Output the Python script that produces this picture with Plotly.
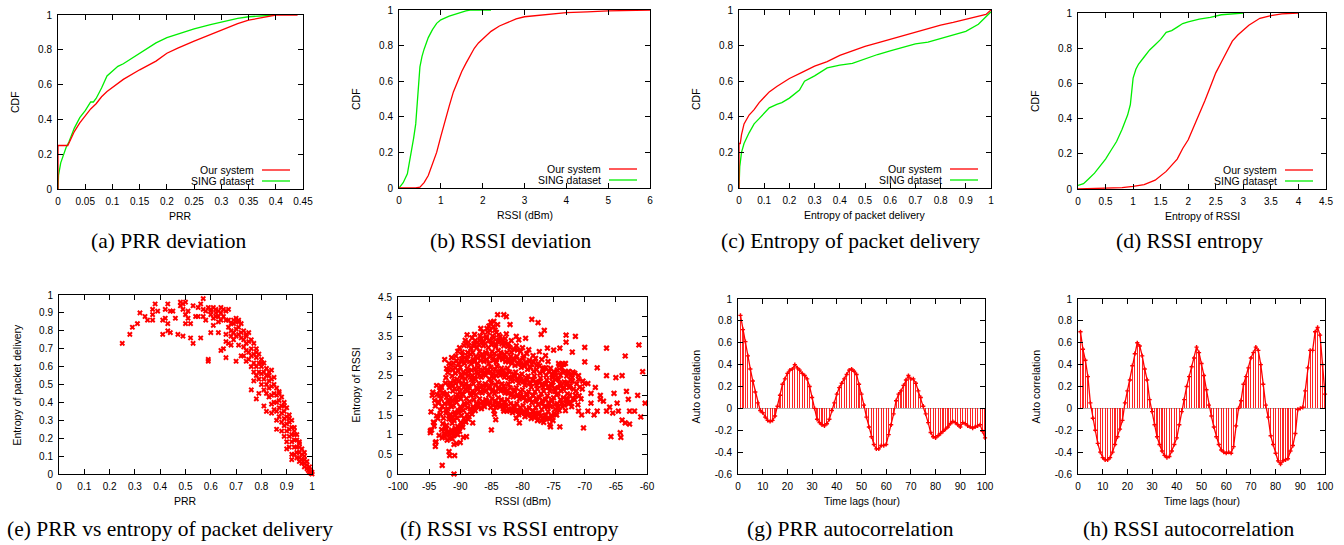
import plotly.graph_objects as go

W, H = 1344, 545

# ---------------- data ----------------
# (a) PRR deviation CDF
a_our_x = [0, 0, 0.018, 0.022, 0.03, 0.04, 0.05, 0.06, 0.07, 0.08, 0.09, 0.1, 0.12, 0.15, 0.18, 0.2, 0.22, 0.25, 0.27, 0.28, 0.3, 0.33, 0.35, 0.38, 0.4, 0.44]
a_our_y = [0, 0.25, 0.25, 0.28, 0.33, 0.38, 0.42, 0.46, 0.49, 0.53, 0.56, 0.585, 0.63, 0.685, 0.735, 0.78, 0.81, 0.85, 0.875, 0.89, 0.915, 0.95, 0.97, 0.99, 1.0, 1.0]
a_sing_x = [0, 0.001, 0.005, 0.01, 0.015, 0.02, 0.03, 0.04, 0.05, 0.06, 0.065, 0.07, 0.08, 0.09, 0.1, 0.11, 0.12, 0.13, 0.15, 0.18, 0.2, 0.22, 0.25, 0.28, 0.3, 0.33, 0.35, 0.4]
a_sing_y = [0, 0.08, 0.15, 0.2, 0.24, 0.27, 0.35, 0.41, 0.45, 0.5, 0.5, 0.52, 0.58, 0.65, 0.68, 0.705, 0.72, 0.74, 0.78, 0.84, 0.87, 0.89, 0.92, 0.945, 0.96, 0.98, 0.99, 1.0]

# (b) RSSI deviation CDF
b_our_x = [0, 0.4, 0.5, 0.6, 0.7, 0.8, 0.9, 1.0, 1.1, 1.2, 1.3, 1.4, 1.5, 1.6, 1.7, 1.8, 1.9, 2.0, 2.1, 2.2, 2.4, 2.6, 2.8, 3.0, 3.5, 4.0, 4.5, 5.0, 6.0]
b_our_y = [0, 0, 0.005, 0.03, 0.07, 0.13, 0.2, 0.29, 0.38, 0.46, 0.54, 0.6, 0.655, 0.7, 0.745, 0.785, 0.815, 0.835, 0.855, 0.88, 0.91, 0.93, 0.95, 0.962, 0.975, 0.985, 0.99, 0.995, 1.0]
b_sing_x = [0, 0.1, 0.2, 0.3, 0.35, 0.4, 0.45, 0.5, 0.55, 0.6, 0.7, 0.8, 0.9, 1.0, 1.2, 1.4, 1.5, 1.6, 1.7, 2.2]
b_sing_y = [0, 0.03, 0.08, 0.2, 0.28, 0.36, 0.5, 0.68, 0.74, 0.78, 0.845, 0.89, 0.925, 0.945, 0.965, 0.98, 0.99, 0.995, 1.0, 1.0]

# (c) Entropy of packet delivery CDF
c_our_x = [0, 0, 0.005, 0.01, 0.02, 0.04, 0.06, 0.08, 0.1, 0.12, 0.15, 0.2, 0.25, 0.3, 0.35, 0.4, 0.45, 0.5, 0.55, 0.6, 0.65, 0.7, 0.75, 0.8, 0.85, 0.9, 0.95, 0.98, 1.0]
c_our_y = [0, 0.25, 0.25, 0.3, 0.36, 0.41, 0.44, 0.48, 0.51, 0.54, 0.57, 0.615, 0.65, 0.685, 0.71, 0.745, 0.77, 0.795, 0.815, 0.835, 0.855, 0.875, 0.895, 0.915, 0.93, 0.948, 0.965, 0.975, 1.0]
c_sing_x = [0, 0.003, 0.01, 0.02, 0.04, 0.06, 0.08, 0.1, 0.12, 0.15, 0.17, 0.2, 0.22, 0.24, 0.26, 0.3, 0.35, 0.4, 0.45, 0.5, 0.55, 0.6, 0.65, 0.7, 0.75, 0.8, 0.85, 0.9, 0.95, 1.0]
c_sing_y = [0, 0.12, 0.2, 0.25, 0.31, 0.36, 0.39, 0.42, 0.45, 0.47, 0.48, 0.505, 0.53, 0.55, 0.6, 0.63, 0.675, 0.69, 0.7, 0.725, 0.75, 0.77, 0.79, 0.81, 0.82, 0.84, 0.86, 0.88, 0.92, 0.99]

# (d) RSSI entropy CDF
d_our_x = [0, 0.5, 0.8, 1.0, 1.2, 1.4, 1.5, 1.6, 1.8, 1.9, 2.0, 2.1, 2.2, 2.3, 2.4, 2.5, 2.6, 2.7, 2.8, 2.9, 3.0, 3.1, 3.2, 3.3, 3.5, 3.7, 4.0]
d_our_y = [0, 0.003, 0.008, 0.015, 0.025, 0.05, 0.075, 0.1, 0.17, 0.23, 0.28, 0.35, 0.43, 0.5, 0.58, 0.66, 0.72, 0.78, 0.84, 0.875, 0.905, 0.93, 0.95, 0.97, 0.985, 0.995, 1.0]
d_sing_x = [0, 0.1, 0.2, 0.3, 0.4, 0.5, 0.6, 0.7, 0.8, 0.9, 0.95, 1.0, 1.05, 1.1, 1.2, 1.3, 1.4, 1.5, 1.6, 1.7, 1.8, 1.9, 2.0, 2.2, 2.4, 2.6, 3.0]
d_sing_y = [0.02, 0.03, 0.06, 0.09, 0.13, 0.17, 0.22, 0.27, 0.34, 0.42, 0.48, 0.63, 0.68, 0.71, 0.75, 0.79, 0.82, 0.85, 0.89, 0.9, 0.92, 0.94, 0.95, 0.965, 0.975, 0.99, 1.0]

# (e) PRR vs entropy of packet delivery
e_points = [
    (0.25, 0.73), (0.28, 0.78), (0.29, 0.82), (0.31, 0.84), (0.32, 0.90), (0.34, 0.88), (0.35, 0.86), (0.37, 0.86),
    (0.37, 0.89), (0.37, 0.92), (0.38, 0.95), (0.39, 0.91), (0.41, 0.78), (0.41, 0.86), (0.42, 0.87), (0.42, 0.92),
    (0.43, 0.84), (0.43, 0.80), (0.43, 0.95), (0.44, 0.91), (0.44, 0.79), (0.45, 0.91), (0.46, 0.87), (0.47, 0.78),
    (0.48, 0.96), (0.48, 0.94), (0.49, 0.92), (0.49, 0.95), (0.49, 0.77), (0.50, 0.84), (0.50, 0.89), (0.50, 0.96),
    (0.51, 0.91), (0.51, 0.87), (0.52, 0.84), (0.52, 0.76), (0.53, 0.94), (0.53, 0.73), (0.54, 0.88), (0.55, 0.93),
    (0.55, 0.88), (0.56, 0.95), (0.56, 0.76), (0.57, 0.92), (0.57, 0.88), (0.57, 0.98), (0.58, 0.91), (0.58, 0.86),
    (0.59, 0.93), (0.59, 0.63), (0.59, 0.64), (0.60, 0.89), (0.60, 0.91), (0.60, 0.92), (0.60, 0.79), (0.61, 0.87),
    (0.61, 0.83), (0.62, 0.90), (0.62, 0.92), (0.63, 0.91), (0.63, 0.88), (0.63, 0.79), (0.64, 0.90), (0.64, 0.86),
    (0.64, 0.69), (0.65, 0.92), (0.65, 0.88), (0.65, 0.70), (0.66, 0.91), (0.66, 0.86), (0.66, 0.78), (0.66, 0.74),
    (0.66, 0.65), (0.67, 0.92), (0.67, 0.82), (0.67, 0.73), (0.68, 0.80), (0.68, 0.77), (0.68, 0.72), (0.69, 0.86),
    (0.69, 0.84), (0.69, 0.75), (0.69, 0.79), (0.70, 0.87), (0.70, 0.81), (0.70, 0.77), (0.70, 0.63), (0.71, 0.85),
    (0.71, 0.82), (0.71, 0.72), (0.72, 0.79), (0.72, 0.76), (0.72, 0.66), (0.73, 0.80), (0.73, 0.75), (0.73, 0.71),
    (0.73, 0.66), (0.74, 0.77), (0.74, 0.73), (0.74, 0.63), (0.74, 0.69), (0.75, 0.79), (0.75, 0.74), (0.75, 0.68),
    (0.75, 0.64), (0.76, 0.70), (0.76, 0.66), (0.76, 0.60), (0.76, 0.47), (0.77, 0.73), (0.77, 0.67), (0.77, 0.62),
    (0.77, 0.57), (0.77, 0.52), (0.78, 0.70), (0.78, 0.65), (0.78, 0.60), (0.78, 0.55), (0.78, 0.42), (0.79, 0.67),
    (0.79, 0.62), (0.79, 0.57), (0.79, 0.53), (0.80, 0.64), (0.80, 0.60), (0.80, 0.56), (0.80, 0.50), (0.81, 0.62),
    (0.81, 0.57), (0.81, 0.53), (0.81, 0.47), (0.81, 0.38), (0.82, 0.59), (0.82, 0.55), (0.82, 0.50), (0.82, 0.45),
    (0.82, 0.35), (0.83, 0.57), (0.83, 0.52), (0.83, 0.48), (0.83, 0.43), (0.84, 0.58), (0.84, 0.53), (0.84, 0.49),
    (0.84, 0.44), (0.84, 0.39), (0.85, 0.54), (0.85, 0.50), (0.85, 0.45), (0.85, 0.40), (0.85, 0.36), (0.86, 0.48),
    (0.86, 0.44), (0.86, 0.40), (0.86, 0.35), (0.86, 0.25), (0.87, 0.46), (0.87, 0.41), (0.87, 0.37), (0.87, 0.32),
    (0.88, 0.43), (0.88, 0.38), (0.88, 0.34), (0.88, 0.29), (0.88, 0.24), (0.89, 0.40), (0.89, 0.35), (0.89, 0.31),
    (0.89, 0.27), (0.89, 0.21), (0.90, 0.37), (0.90, 0.32), (0.90, 0.28), (0.90, 0.24), (0.90, 0.18), (0.91, 0.33),
    (0.91, 0.29), (0.91, 0.25), (0.91, 0.21), (0.91, 0.15), (0.92, 0.30), (0.92, 0.26), (0.92, 0.22), (0.92, 0.18),
    (0.92, 0.11), (0.93, 0.26), (0.93, 0.22), (0.93, 0.19), (0.93, 0.15), (0.93, 0.11), (0.94, 0.22), (0.94, 0.19),
    (0.94, 0.15), (0.94, 0.12), (0.94, 0.09), (0.95, 0.18), (0.95, 0.15), (0.95, 0.12), (0.95, 0.09), (0.95, 0.07),
    (0.96, 0.14), (0.96, 0.11), (0.96, 0.08), (0.96, 0.06), (0.97, 0.10), (0.97, 0.08), (0.97, 0.06), (0.97, 0.04),
    (0.98, 0.07), (0.98, 0.05), (0.98, 0.03), (0.99, 0.04), (0.99, 0.02), (0.99, 0.01), (1.0, 0.0), (1.0, 0.01),
    (0.995, 0.005), (0.985, 0.02), (0.72, 0.84), (0.74, 0.78), (0.76, 0.75), (0.78, 0.68), (0.80, 0.62), (0.83, 0.55),
    (0.87, 0.45), (0.89, 0.38), (0.91, 0.31), (0.93, 0.24), (0.95, 0.17), (0.97, 0.12), (0.62, 0.88), (0.64, 0.93),
    (0.61, 0.93), (0.63, 0.85), (0.67, 0.86), (0.68, 0.84), (0.71, 0.78), (0.79, 0.45), (0.84, 0.34), (0.86, 0.30),
    (0.90, 0.14), (0.92, 0.08), (0.70, 0.85), (0.71, 0.86),
]

# (f) RSSI vs RSSI entropy
f_points = [
    (-94.8, 1.1), (-94.8, 1.05), (-94.5, 2.0), (-94.2, 1.3), (-94.0, 0.8), (-94.0, 0.7), (-93.8, 2.25), (-93.5, 1.8),
    (-93.3, 2.0), (-93.0, 2.2), (-92.9, 0.22), (-92.5, 0.95), (-92.3, 1.0), (-92.0, 1.05), (-91.8, 0.57), (-91.7, 0.47),
    (-91.5, 1.4), (-91.3, 0.9), (-91.0, 0.75), (-90.9, 0.47), (-91.0, 0.0), (-90.6, 0.78), (-90.4, 1.0), (-90.0, 0.8),
    (-89.5, 0.93), (-89.0, 0.95), (-88.0, 1.3), (-85.0, 1.12), (-84.5, 1.52), (-84.3, 1.38), (-84.0, 4.05), (-83.0, 4.05),
    (-82.6, 4.0), (-84.6, 3.88), (-84.0, 3.8), (-82.0, 3.8), (-81.0, 3.5), (-79.5, 3.45), (-78.5, 3.93), (-77.5, 3.85),
    (-77.0, 3.55), (-76.5, 3.65), (-76.0, 3.2), (-75.0, 3.15), (-74.0, 3.2), (-73.0, 3.53), (-73.0, 3.35), (-72.0, 3.1),
    (-71.5, 3.5), (-70.0, 3.22), (-70.0, 2.85), (-68.0, 2.7), (-66.5, 3.2), (-66.5, 2.5), (-65.0, 2.45), (-64.0, 2.5),
    (-63.5, 3.0), (-61.3, 3.28), (-60.7, 2.6), (-60.3, 1.8), (-61.5, 2.0), (-61.0, 1.45), (-62.0, 1.6), (-62.8, 1.6),
    (-62.8, 1.27), (-63.0, 1.9), (-63.3, 2.1), (-63.5, 1.3), (-64.0, 1.37), (-64.3, 1.05), (-64.2, 0.93), (-64.6, 1.6),
    (-64.8, 1.8), (-65.3, 2.05), (-65.5, 1.55), (-65.8, 0.95), (-66.0, 1.7), (-66.5, 1.6), (-67.0, 1.85), (-67.5, 1.9),
    (-68.0, 1.6), (-68.5, 1.5), (-69.0, 2.05), (-69.0, 1.8), (-69.5, 1.6), (-70.0, 2.3), (-70.2, 1.17), (-70.5, 1.5),
    (-71.0, 1.6), (-71.0, 2.5), (-71.5, 2.0), (-72.0, 2.45), (-72.5, 2.2), (-73.0, 1.9), (-73.5, 2.8), (-74.0, 1.2),
    (-74.5, 1.5), (-75.0, 2.6), (-75.5, 1.2), (-76.0, 1.7), (-76.5, 1.4), (-77.0, 1.35), (-78.0, 1.45), (-78.0, 1.55),
    (-80.5, 1.3), (-81.0, 1.42), (-82.5, 1.6), (-83.0, 1.6), (-69.5, 2.3), (-68.3, 2.2), (-67.5, 2.0),
    (-94.6, 1.12), (-94.3, 1.32), (-94.7, 1.58), (-94.1, 1.87), (-94.4, 2.08), (-93.9, 0.82), (-94.2, 1.22), (-93.8, 1.48),
    (-94.0, 1.73), (-93.7, 2.02), (-93.4, 0.98), (-93.6, 1.41), (-93.2, 1.62), (-93.5, 1.83), (-93.3, 2.12), (-93.1, 2.23),
    (-92.9, 0.92), (-93.0, 1.13), (-92.8, 1.28), (-93.2, 1.52), (-92.9, 1.72), (-93.1, 1.91), (-92.7, 2.07),
    (-92.6, 1.02), (-92.4, 1.18), (-92.7, 1.42), (-92.3, 1.63), (-92.5, 1.79), (-92.6, 2.02), (-92.4, 2.31), (-92.2, 2.68),
    (-92.5, 2.91), (-92.1, 0.86), (-91.9, 1.07), (-92.2, 1.24), (-91.8, 1.47), (-92.0, 1.66), (-91.9, 1.84), (-92.1, 2.04),
    (-91.7, 2.27), (-92.0, 2.58), (-91.8, 2.81), (-91.6, 0.91), (-91.4, 1.12), (-91.3, 1.29), (-91.6, 1.52), (-91.4, 1.71),
    (-91.5, 1.93), (-91.2, 2.11), (-91.6, 2.32), (-91.3, 2.49), (-91.5, 2.77), (-91.4, 2.96), (-91.1, 0.97), (-90.8, 1.16),
    (-91.0, 1.36), (-90.9, 1.57), (-91.1, 1.74), (-90.7, 1.96), (-90.9, 2.16), (-91.0, 2.37), (-90.8, 2.56), (-91.1, 2.82),
    (-90.6, 1.02), (-90.4, 1.21), (-90.5, 1.42), (-90.3, 1.61), (-90.6, 1.82), (-90.4, 2.01), (-90.2, 2.19), (-90.5, 2.41),
    (-90.3, 2.62), (-90.6, 2.88), (-90.4, 3.12), (-90.1, 1.09), (-89.9, 1.31), (-89.8, 1.49), (-90.0, 1.71), (-89.9, 1.91),
    (-90.1, 2.09), (-89.7, 2.31), (-89.9, 2.52), (-90.0, 2.71), (-89.8, 2.92), (-90.1, 3.21), (-89.6, 1.19), (-89.4, 1.41),
    (-89.5, 1.62), (-89.3, 1.79), (-89.6, 2.02), (-89.4, 2.21), (-89.2, 2.42), (-89.5, 2.59), (-89.3, 2.81), (-89.6, 3.02),
    (-89.4, 3.27), (-89.1, 1.32), (-88.9, 1.51), (-88.8, 1.69), (-89.0, 1.92), (-88.9, 2.11), (-89.1, 2.29), (-88.7, 2.51),
    (-88.9, 2.69), (-89.0, 2.91), (-88.8, 3.09), (-89.1, 3.31), (-88.9, 3.54), (-88.6, 1.46), (-88.4, 1.66), (-88.5, 1.84),
    (-88.3, 2.06), (-88.6, 2.24), (-88.4, 2.46), (-88.2, 2.64), (-88.5, 2.86), (-88.3, 3.04), (-88.6, 3.26), (-88.1, 1.52),
    (-87.9, 1.71), (-87.8, 1.89), (-88.0, 2.11), (-87.9, 2.29), (-88.1, 2.51), (-87.7, 2.69), (-87.9, 2.91), (-88.0, 3.09),
    (-87.8, 3.31), (-88.1, 3.46), (-87.6, 1.61), (-87.4, 1.79), (-87.5, 2.01), (-87.3, 2.19), (-87.6, 2.41), (-87.4, 2.59),
    (-87.2, 2.81), (-87.5, 2.99), (-87.3, 3.21), (-87.6, 3.39), (-87.1, 1.69), (-86.9, 1.91), (-86.8, 2.09), (-87.0, 2.31),
    (-86.9, 2.49), (-87.1, 2.71), (-86.7, 2.89), (-86.9, 3.11), (-87.0, 3.29), (-86.8, 3.51), (-86.6, 1.66), (-86.4, 1.84),
    (-86.5, 2.06), (-86.3, 2.24), (-86.6, 2.46), (-86.4, 2.64), (-86.2, 2.86), (-86.5, 3.04), (-86.3, 3.26), (-86.6, 3.44),
    (-86.4, 3.61), (-86.1, 1.71), (-85.9, 1.89), (-85.8, 2.11), (-86.0, 2.29), (-85.9, 2.51), (-86.1, 2.69), (-85.7, 2.91),
    (-85.9, 3.09), (-86.0, 3.31), (-85.8, 3.49), (-85.6, 1.79), (-85.4, 2.01), (-85.5, 2.19), (-85.3, 2.41), (-85.6, 2.59),
    (-85.4, 2.81), (-85.2, 2.99), (-85.5, 3.21), (-85.3, 3.39), (-85.6, 3.61), (-85.4, 3.76), (-85.1, 1.69), (-84.9, 1.91),
    (-84.8, 2.09), (-85.0, 2.31), (-84.9, 2.49), (-85.1, 2.71), (-84.7, 2.89), (-84.9, 3.11), (-85.0, 3.29), (-84.8, 3.51),
    (-85.1, 3.86), (-84.6, 1.61), (-84.4, 1.86), (-84.5, 2.04), (-84.3, 2.26), (-84.6, 2.44), (-84.4, 2.66), (-84.2, 2.84),
    (-84.5, 3.06), (-84.3, 3.24), (-84.6, 3.46), (-84.4, 3.66), (-84.1, 1.76), (-83.9, 1.94), (-83.8, 2.16), (-84.0, 2.34),
    (-83.9, 2.56), (-84.1, 2.74), (-83.7, 2.96), (-83.9, 3.14), (-84.0, 3.36), (-83.8, 3.54), (-83.6, 1.71), (-83.4, 1.89),
    (-83.5, 2.11), (-83.3, 2.29), (-83.6, 2.51), (-83.4, 2.69), (-83.2, 2.91), (-83.5, 3.09), (-83.3, 3.31), (-83.6, 3.49),
    (-83.1, 1.66), (-82.9, 1.84), (-82.8, 2.06), (-83.0, 2.24), (-82.9, 2.46), (-83.1, 2.64), (-82.7, 2.86), (-82.9, 3.04),
    (-83.0, 3.26), (-82.8, 3.44), (-82.6, 1.71), (-82.4, 1.89), (-82.5, 2.11), (-82.3, 2.29), (-82.6, 2.51), (-82.4, 2.69),
    (-82.2, 2.91), (-82.5, 3.09), (-82.3, 3.31), (-82.6, 3.56), (-82.1, 1.61), (-81.9, 1.79), (-81.8, 2.01), (-82.0, 2.19),
    (-81.9, 2.41), (-82.1, 2.59), (-81.7, 2.81), (-81.9, 2.99), (-82.0, 3.21), (-81.8, 3.39), (-81.6, 1.56), (-81.4, 1.74),
    (-81.5, 1.96), (-81.3, 2.14), (-81.6, 2.36), (-81.4, 2.54), (-81.2, 2.76), (-81.5, 2.94), (-81.3, 3.16), (-81.1, 1.61),
    (-80.9, 1.79), (-80.8, 2.01), (-81.0, 2.19), (-80.9, 2.41), (-81.1, 2.59), (-80.7, 2.81), (-80.9, 2.99), (-81.0, 3.26),
    (-80.6, 1.51), (-80.4, 1.69), (-80.5, 1.91), (-80.3, 2.09), (-80.6, 2.31), (-80.4, 2.49), (-80.2, 2.71), (-80.5, 2.89),
    (-80.3, 3.11), (-80.6, 3.41), (-80.1, 1.56), (-79.9, 1.74), (-79.8, 1.96), (-80.0, 2.14), (-79.9, 2.36), (-80.1, 2.54),
    (-79.7, 2.76), (-79.9, 2.94), (-80.0, 3.21), (-79.6, 1.46), (-79.4, 1.64), (-79.5, 1.86), (-79.3, 2.04), (-79.6, 2.26),
    (-79.4, 2.44), (-79.2, 2.66), (-79.5, 2.84), (-79.3, 3.06), (-79.1, 1.51), (-78.9, 1.69), (-78.8, 1.91), (-79.0, 2.09),
    (-78.9, 2.31), (-79.1, 2.49), (-78.7, 2.71), (-78.9, 2.89), (-79.0, 3.16), (-78.6, 1.41), (-78.4, 1.59), (-78.5, 1.81),
    (-78.3, 1.99), (-78.6, 2.21), (-78.4, 2.39), (-78.2, 2.61), (-78.5, 2.79), (-78.3, 3.01), (-78.1, 1.51), (-77.9, 1.69),
    (-77.8, 1.91), (-78.0, 2.09), (-77.9, 2.31), (-78.1, 2.49), (-77.7, 2.76), (-77.9, 2.94), (-77.6, 1.36), (-77.4, 1.54),
    (-77.5, 1.76), (-77.3, 1.94), (-77.6, 2.16), (-77.4, 2.34), (-77.2, 2.56), (-77.5, 2.81), (-77.3, 3.11), (-77.1, 1.46),
    (-76.9, 1.64), (-76.8, 1.86), (-77.0, 2.04), (-76.9, 2.26), (-77.1, 2.44), (-76.7, 2.66), (-76.9, 2.91), (-76.6, 1.31),
    (-76.4, 1.49), (-76.5, 1.71), (-76.3, 1.89), (-76.6, 2.11), (-76.4, 2.29), (-76.2, 2.51), (-76.5, 2.69), (-76.3, 3.01),
    (-76.1, 1.41), (-75.9, 1.59), (-75.8, 1.81), (-76.0, 1.99), (-75.9, 2.21), (-76.1, 2.39), (-75.7, 2.61), (-75.9, 2.86),
    (-75.6, 1.26), (-75.4, 1.49), (-75.5, 1.71), (-75.3, 1.89), (-75.6, 2.11), (-75.4, 2.29), (-75.2, 2.51), (-75.5, 2.69),
    (-75.1, 1.36), (-74.9, 1.54), (-74.8, 1.76), (-75.0, 1.94), (-74.9, 2.16), (-75.1, 2.34), (-74.7, 2.56), (-74.6, 1.51),
    (-74.4, 1.79), (-74.5, 2.01), (-74.3, 2.19), (-74.6, 2.41), (-74.4, 2.64), (-74.2, 2.81), (-74.1, 1.61), (-73.9, 1.89),
    (-73.8, 2.11), (-74.0, 2.29), (-73.9, 2.51), (-74.1, 2.76), (-73.6, 1.71), (-73.4, 1.94), (-73.5, 2.16), (-73.3, 2.34),
    (-73.6, 2.61), (-73.4, 2.79), (-73.1, 1.61), (-72.9, 1.86), (-72.8, 2.04), (-73.0, 2.31), (-72.9, 2.49), (-73.1, 2.81),
    (-72.6, 1.79), (-72.4, 2.01), (-72.5, 2.21), (-72.3, 2.39), (-72.6, 2.61), (-72.1, 1.71), (-71.9, 1.91), (-71.8, 2.16),
    (-72.0, 2.36), (-71.9, 2.59), (-71.6, 1.89), (-71.4, 2.11), (-71.3, 2.29), (-71.6, 2.56), (-71.1, 1.76), (-70.9, 1.99),
    (-70.8, 2.21), (-71.0, 2.41), (-70.6, 1.91), (-70.4, 2.16), (-70.3, 2.36),
    (-92.25, 1.15), (-92.3, 1.55), (-92.2, 1.95), (-92.3, 2.45), (-91.75, 1.0), (-91.8, 1.4), (-91.7, 1.8), (-91.75, 2.2),
    (-91.8, 2.65), (-91.25, 1.05), (-91.2, 1.45), (-91.3, 1.85), (-91.25, 2.25), (-91.2, 2.65), (-90.75, 1.1), (-90.8, 1.5),
    (-90.7, 1.9), (-90.75, 2.3), (-90.8, 2.7), (-90.7, 3.0), (-90.25, 1.15), (-90.3, 1.55), (-90.2, 1.95), (-90.25, 2.35),
    (-90.3, 2.8), (-89.75, 1.25), (-89.8, 1.65), (-89.7, 2.05), (-89.75, 2.45), (-89.8, 2.85), (-89.7, 3.1), (-89.25, 1.35),
    (-89.3, 1.75), (-89.2, 2.15), (-89.25, 2.55), (-89.3, 2.95), (-89.2, 3.4), (-88.75, 1.4), (-88.8, 1.8), (-88.7, 2.2),
    (-88.75, 2.6), (-88.8, 3.0), (-88.7, 3.35), (-88.25, 1.6), (-88.3, 2.0), (-88.2, 2.4), (-88.25, 2.8), (-88.3, 3.2),
    (-87.75, 1.65), (-87.8, 2.05), (-87.7, 2.45), (-87.75, 2.85), (-87.8, 3.25), (-87.7, 3.55), (-87.25, 1.75), (-87.3, 2.15),
    (-87.2, 2.55), (-87.25, 2.95), (-87.3, 3.35), (-86.75, 1.8), (-86.8, 2.2), (-86.7, 2.6), (-86.75, 3.0), (-86.8, 3.4),
    (-86.7, 3.7), (-86.25, 1.75), (-86.3, 2.15), (-86.2, 2.55), (-86.25, 2.95), (-86.3, 3.35), (-85.75, 1.85), (-85.8, 2.25),
    (-85.7, 2.65), (-85.75, 3.05), (-85.8, 3.45), (-85.7, 3.7), (-85.25, 1.8), (-85.3, 2.2), (-85.2, 2.6), (-85.25, 3.0),
    (-85.3, 3.4), (-85.2, 3.65), (-84.75, 1.75), (-84.8, 2.15), (-84.7, 2.55), (-84.75, 2.95), (-84.8, 3.35), (-84.7, 3.75),
    (-84.25, 1.7), (-84.3, 2.1), (-84.2, 2.5), (-84.25, 2.9), (-84.3, 3.3), (-84.2, 3.6), (-83.75, 1.8), (-83.8, 2.2),
    (-83.7, 2.6), (-83.75, 3.0), (-83.8, 3.4), (-83.25, 1.75), (-83.3, 2.15), (-83.2, 2.55), (-83.25, 2.95), (-83.3, 3.4),
    (-82.75, 1.75), (-82.8, 2.15), (-82.7, 2.55), (-82.75, 2.95), (-82.8, 3.35), (-82.25, 1.65), (-82.3, 2.05), (-82.2, 2.45),
    (-82.25, 2.85), (-82.3, 3.25), (-81.75, 1.65), (-81.8, 2.05), (-81.7, 2.45), (-81.75, 2.85), (-81.8, 3.1), (-81.25, 1.7),
    (-81.3, 2.1), (-81.2, 2.5), (-81.25, 2.9), (-80.75, 1.6), (-80.8, 2.0), (-80.7, 2.4), (-80.75, 2.8), (-80.8, 3.15),
    (-80.25, 1.6), (-80.3, 2.0), (-80.2, 2.4), (-80.25, 2.8), (-79.75, 1.55), (-79.8, 1.95), (-79.7, 2.35), (-79.75, 2.75),
    (-79.8, 3.0), (-79.25, 1.6), (-79.3, 2.0), (-79.2, 2.4), (-79.25, 2.8), (-78.75, 1.5), (-78.8, 1.9), (-78.7, 2.3),
    (-78.75, 2.7), (-78.25, 1.6), (-78.3, 2.0), (-78.2, 2.4), (-78.25, 2.85), (-77.75, 1.45), (-77.8, 1.85), (-77.7, 2.25),
    (-77.75, 2.65), (-77.25, 1.55), (-77.3, 1.95), (-77.2, 2.35), (-77.25, 2.75), (-76.75, 1.4), (-76.8, 1.8), (-76.7, 2.2),
    (-76.75, 2.6), (-76.25, 1.5), (-76.3, 1.9), (-76.2, 2.3), (-76.25, 2.7), (-75.75, 1.4), (-75.8, 1.8), (-75.7, 2.2),
    (-75.75, 2.6), (-75.25, 1.45), (-75.3, 1.85), (-75.2, 2.25), (-75.25, 2.45), (-74.75, 1.65), (-74.8, 2.1), (-74.7, 2.5),
    (-74.25, 1.7), (-74.3, 2.05), (-74.2, 2.4), (-73.75, 1.8), (-73.8, 2.25), (-73.7, 2.7), (-73.25, 1.75), (-73.3, 2.2),
    (-73.2, 2.6), (-72.75, 1.9), (-72.8, 2.3), (-72.7, 2.55), (-72.25, 1.8), (-72.3, 2.25), (-72.2, 2.5),
]

# (g) PRR autocorrelation, lags 1..100
g_lags = list(range(1, 101))
g_acf = [0.85, 0.72, 0.61, 0.48, 0.36, 0.25, 0.15, 0.05, -0.02, -0.04,
         -0.08, -0.11, -0.12, -0.11, -0.07, 0.02, 0.12, 0.22, 0.27, 0.32,
         0.35, 0.36, 0.40, 0.37, 0.35, 0.32, 0.30, 0.27, 0.20, 0.10,
         0.0, -0.10, -0.13, -0.15, -0.16, -0.14, -0.10, -0.02, 0.05, 0.13,
         0.19, 0.23, 0.27, 0.31, 0.35, 0.36, 0.34, 0.31, 0.22, 0.13,
         0.03, -0.08, -0.17, -0.26, -0.33, -0.37, -0.37, -0.34, -0.34, -0.33,
         -0.24, -0.15, -0.05, 0.07, 0.13, 0.16, 0.21, 0.26, 0.30, 0.27,
         0.27, 0.23, 0.16, 0.10, 0.02, -0.05, -0.13, -0.22, -0.26, -0.27,
         -0.25, -0.23, -0.21, -0.19, -0.17, -0.14, -0.12, -0.13, -0.15, -0.17,
         -0.13, -0.14, -0.16, -0.17, -0.18, -0.17, -0.16, -0.15, -0.21, -0.27]

# (h) RSSI autocorrelation, lags 1..100
h_lags = list(range(1, 101))
h_acf = [0.70, 0.54, 0.44, 0.29, 0.05, -0.09, -0.20, -0.32, -0.40, -0.45,
         -0.47, -0.47, -0.45, -0.40, -0.33, -0.26, -0.19, -0.11, 0.05, 0.16,
         0.26, 0.39, 0.50, 0.60, 0.57, 0.48, 0.36, 0.26, 0.08, -0.03,
         -0.15, -0.26, -0.33, -0.39, -0.43, -0.45, -0.44, -0.39, -0.33, -0.27,
         -0.15, -0.03, 0.08, 0.20, 0.29, 0.38, 0.46, 0.56, 0.51, 0.41,
         0.30, 0.17, 0.03, -0.07, -0.17, -0.26, -0.33, -0.38, -0.40, -0.41,
         -0.40, -0.41, -0.35, -0.16, 0.0, 0.07, 0.22, 0.29, 0.37, 0.46,
         0.51, 0.56, 0.53, 0.40, 0.22, 0.03, -0.08, -0.25, -0.33, -0.41,
         -0.48, -0.51, -0.48, -0.47, -0.46, -0.39, -0.34, -0.23, -0.01, 0.0,
         0.01, 0.16, 0.37, 0.53, 0.53, 0.70, 0.74, 0.67, 0.40, 0.13]

# tick labels
ticks_cdf_y = [0, 0.2, 0.4, 0.6, 0.8, 1]
ticks_a_x = [0, 0.05, 0.1, 0.15, 0.2, 0.25, 0.3, 0.35, 0.4, 0.45]
ticks_b_x = [0, 1, 2, 3, 4, 5, 6]
ticks_tenth = [0, 0.1, 0.2, 0.3, 0.4, 0.5, 0.6, 0.7, 0.8, 0.9, 1]
ticks_d_x = [0, 0.5, 1, 1.5, 2, 2.5, 3, 3.5, 4, 4.5]
ticks_f_x = [-100, -95, -90, -85, -80, -75, -70, -65, -60]
ticks_f_y = [0, 0.5, 1, 1.5, 2, 2.5, 3, 3.5, 4, 4.5]
ticks_lag_x = [0, 10, 20, 30, 40, 50, 60, 70, 80, 90, 100]
ticks_acf_y = [-0.6, -0.4, -0.2, 0, 0.2, 0.4, 0.6, 0.8, 1]

captions = ["(a) PRR deviation", "(b) RSSI deviation", "(c) Entropy of packet delivery", "(d) RSSI entropy",
            "(e) PRR vs entropy of packet delivery", "(f) RSSI vs RSSI entropy",
            "(g) PRR autocorrelation", "(h) RSSI autocorrelation"]
legend_names = ["Our system", "SING dataset"]

# ---------------- styling / layout ----------------
RED = "#ff0000"
GREEN = "#00ee00"
SANS = "Liberation Sans, Arial, sans-serif"
SERIF = "Liberation Serif, Times New Roman, serif"


def lab(v):
    return "%g" % v


# pixel boxes (left, top, right, bottom), ranges, ticks, titles, caption center x/y
panels = [
    dict(box=(58, 15, 303, 189), xr=[0, 0.45], yr=[0, 1], xt=ticks_a_x, yt=ticks_cdf_y, xtitle="PRR", ytitle="CDF", cap=(169, 241)),
    dict(box=(399, 10, 650, 188), xr=[0, 6], yr=[0, 1], xt=ticks_b_x, yt=ticks_cdf_y, xtitle="RSSI (dBm)", ytitle="CDF", cap=(510, 241)),
    dict(box=(739, 10, 991, 188), xr=[0, 1], yr=[0, 1], xt=ticks_tenth, yt=ticks_cdf_y, xtitle="Entropy of packet delivery", ytitle="CDF", cap=(850, 241)),
    dict(box=(1078, 13, 1326, 189), xr=[0, 4.5], yr=[0, 1], xt=ticks_d_x, yt=ticks_cdf_y, xtitle="Entropy of RSSI", ytitle="CDF", cap=(1189, 241)),
    dict(box=(59, 295, 312, 474), xr=[0, 1], yr=[0, 1], xt=ticks_tenth, yt=ticks_tenth, xtitle="PRR", ytitle="Entropy of packet delivery", cap=(170, 529)),
    dict(box=(398, 297, 647, 474), xr=[-100, -60], yr=[0, 4.5], xt=ticks_f_x, yt=ticks_f_y, xtitle="RSSI (dBm)", ytitle="Entropy of RSSI", cap=(509, 529)),
    dict(box=(738, 299, 985, 474), xr=[0, 100], yr=[-0.6, 1], xt=ticks_lag_x, yt=ticks_acf_y, xtitle="Time lags (hour)", ytitle="Auto correlation", cap=(850, 529)),
    dict(box=(1078, 299, 1325, 474), xr=[0, 100], yr=[-0.6, 1], xt=ticks_lag_x, yt=ticks_acf_y, xtitle="Time lags (hour)", ytitle="Auto correlation", cap=(1189, 529)),
]


def px(x):
    return x / W


def py(y):
    return 1 - y / H


fig = go.Figure()
layout = dict(width=W, height=H, margin=dict(l=0, r=0, t=0, b=0, pad=0, autoexpand=False),
              paper_bgcolor="white", plot_bgcolor="white", showlegend=False, bargap=0)
annotations = []
shapes = []

for i, p in enumerate(panels):
    n = i + 1
    suf = "" if n == 1 else str(n)
    l, t, r, b = p["box"]
    axis_common = dict(showline=True, linecolor="black", linewidth=1, mirror="allticks", ticks="inside",
                       ticklen=5, tickcolor="black", tickwidth=1, showgrid=False, zeroline=False,
                       automargin=False, layer="above traces",
                       tickfont=dict(family=SANS, size=10, color="black"), ticklabelstandoff=3)
    layout["xaxis" + suf] = dict(axis_common, domain=[px(l), px(r)], anchor="y" + suf, range=p["xr"],
                                 tickmode="array", tickvals=p["xt"], ticktext=[lab(v) for v in p["xt"]])
    layout["yaxis" + suf] = dict(axis_common, domain=[py(b), py(t)], anchor="x" + suf, range=p["yr"],
                                 tickmode="array", tickvals=p["yt"], ticktext=[lab(v) for v in p["yt"]])
    # axis titles
    annotations.append(dict(text=p["xtitle"], x=px((l + r) / 2), y=py(b + 27), xref="paper", yref="paper",
                            showarrow=False, xanchor="center", yanchor="middle",
                            font=dict(family=SANS, size=10.5, color="black")))
    annotations.append(dict(text=p["ytitle"], x=px(l - 43), y=py((t + b) / 2), xref="paper", yref="paper",
                            showarrow=False, xanchor="center", yanchor="middle", textangle=-90,
                            font=dict(family=SANS, size=10.5, color="black")))
    # caption
    annotations.append(dict(text=captions[i], x=px(p["cap"][0]), y=py(p["cap"][1]), xref="paper", yref="paper",
                            showarrow=False, xanchor="center", yanchor="middle",
                            font=dict(family=SERIF, size=21.5, color="black")))
    # legend for CDF panels
    if n <= 4:
        for k, (name, col) in enumerate(zip(legend_names, [RED, GREEN])):
            yy = b - 19 + 11 * k
            annotations.append(dict(text=name, x=px(r - 48), y=py(yy), xref="paper", yref="paper",
                                    showarrow=False, xanchor="right", yanchor="middle", borderpad=0,
                                    font=dict(family=SANS, size=10.5, color="black")))
            shapes.append(dict(type="line", xref="paper", yref="paper", x0=px(r - 41), x1=px(r - 13),
                               y0=py(yy), y1=py(yy), line=dict(color=col, width=1.3)))

layout["annotations"] = annotations
layout["shapes"] = shapes

# zero lines for autocorrelation panels
for suf in ["7", "8"]:
    layout["yaxis" + suf]["zeroline"] = True
    layout["yaxis" + suf]["zerolinecolor"] = "#b0b0b0"
    layout["yaxis" + suf]["zerolinewidth"] = 1

# ---------------- traces ----------------
cdf_sets = [
    (a_our_x, a_our_y, a_sing_x, a_sing_y),
    (b_our_x, b_our_y, b_sing_x, b_sing_y),
    (c_our_x, c_our_y, c_sing_x, c_sing_y),
    (d_our_x, d_our_y, d_sing_x, d_sing_y),
]
for i, (ox, oy, sx, sy) in enumerate(cdf_sets):
    suf = "" if i == 0 else str(i + 1)
    fig.add_trace(go.Scatter(x=sx, y=sy, mode="lines", name=legend_names[1], line=dict(color=GREEN, width=1.3),
                             xaxis="x" + suf, yaxis="y" + suf, cliponaxis=False))
    fig.add_trace(go.Scatter(x=ox, y=oy, mode="lines", name=legend_names[0], line=dict(color=RED, width=1.3),
                             xaxis="x" + suf, yaxis="y" + suf, cliponaxis=False))

fig.add_trace(go.Scatter(x=[q[0] for q in e_points], y=[q[1] for q in e_points], mode="markers",
                         marker=dict(symbol="x", size=5, color=RED, line=dict(width=0)),
                         xaxis="x5", yaxis="y5", cliponaxis=False))
fig.add_trace(go.Scatter(x=[q[0] for q in f_points], y=[q[1] for q in f_points], mode="markers",
                         marker=dict(symbol="x", size=5.5, color=RED, line=dict(width=0)),
                         xaxis="x6", yaxis="y6", cliponaxis=False))

for lags, vals, suf in [(g_lags, g_acf, "7"), (h_lags, h_acf, "8")]:
    fig.add_trace(go.Bar(x=lags, y=vals, width=0.45, marker=dict(color="rgba(255,0,0,0.85)", line=dict(width=0)),
                         xaxis="x" + suf, yaxis="y" + suf))
    fig.add_trace(go.Scatter(x=lags, y=vals, mode="lines+markers", line=dict(color=RED, width=1.3),
                             marker=dict(symbol="cross", size=3.5, color=RED),
                             xaxis="x" + suf, yaxis="y" + suf, cliponaxis=False))

fig.update_layout(**layout)
fig.write_html("out.html", config={"displayModeBar": False, "staticPlot": True},
               post_script="document.body.style.margin='0';document.body.style.padding='0';")
